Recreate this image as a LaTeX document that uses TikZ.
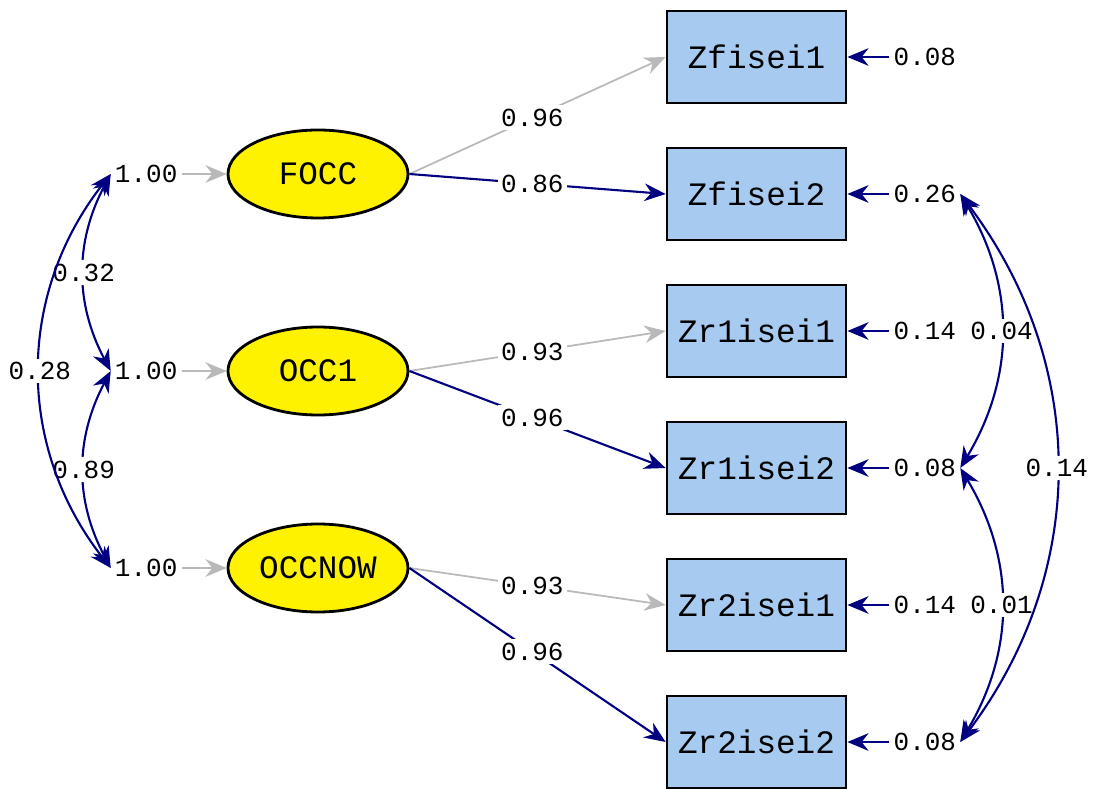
\documentclass[tikz,border=0pt]{standalone}
\usepackage{fontspec}
\setmonofont{Liberation Mono}
\usetikzlibrary{arrows.meta, shapes.geometric, positioning}

\definecolor{pathblue}{RGB}{0,0,128}
\definecolor{fixgray}{RGB}{185,185,185}
\definecolor{boxblue}{RGB}{166,202,240}

\tikzset{
  obs/.style={draw=black, line width=0.8pt, fill=boxblue, minimum width=1.79cm, minimum height=0.92cm, inner xsep=0pt, font=\ttfamily\fontsize{9.3}{11}\selectfont},
  lat/.style={ellipse, draw=black, line width=0.8pt, fill=yellow, minimum width=1.80cm, minimum height=0.88cm, inner sep=0pt, font=\ttfamily\fontsize{9.3}{11}\selectfont},
  val/.style={font=\ttfamily\fontsize{7.4}{9}\selectfont, inner sep=1pt},
  est/.style={val, fill=white},
  free/.style={draw=pathblue, line width=0.6pt, -{Stealth[length=6pt,width=5pt]}},
  fixed/.style={draw=fixgray, line width=0.5pt, -{Stealth[length=6pt,width=5pt]}},
  cov/.style={draw=pathblue, line width=0.6pt, {Stealth[length=6pt,width=5pt]}-{Stealth[length=6pt,width=5pt]}},
}

\begin{document}
\begin{tikzpicture}
\useasboundingbox (0,0) rectangle (10.95,7.88);

% indicators with their error variances
\foreach \n/\y/\v in {Zfisei1/7.31/0.08, Zfisei2/5.94/0.26, Zr1isei1/4.57/0.14, Zr1isei2/3.20/0.08, Zr2isei1/1.83/0.14, Zr2isei2/0.46/0.08} {
  \node[obs] (\n) at (7.565,\y) {\n};
  \node[val, right=0.42cm of \n] (e\n) {\v};
  \draw[free] (e\n) -- (\n);
}

% latent variables, variances fixed at 1
\foreach \n/\y in {FOCC/6.14, OCC1/4.17, OCCNOW/2.20} {
  \node[lat] (\n) at (3.18,\y) {\n};
  \node[val, left=0.45cm of \n] (v\n) {1.00};
  \draw[fixed] (v\n) -- (\n);
}

% loadings
\draw[fixed] (FOCC.east) -- node[est, pos=0.48] {0.96} (Zfisei1.west);
\draw[free] (FOCC.east) -- node[est, pos=0.48] {0.86} (Zfisei2.west);
\draw[fixed] (OCC1.east) -- node[est, pos=0.48] {0.93} (Zr1isei1.west);
\draw[free] (OCC1.east) -- node[est, pos=0.48] {0.96} (Zr1isei2.west);
\draw[fixed] (OCCNOW.east) -- node[est, pos=0.48] {0.93} (Zr2isei1.west);
\draw[free] (OCCNOW.east) -- node[est, pos=0.48] {0.96} (Zr2isei2.west);

% factor correlations
\draw[cov] (vFOCC.west) to[out=-118, in=118] node[est] {0.32} (vOCC1.west);
\draw[cov] (vOCC1.west) to[out=-118, in=118] node[est] {0.89} (vOCCNOW.west);
\draw[cov] (vFOCC.west) to[out=-128, in=128] node[est] {0.28} (vOCCNOW.west);

% error covariances
\draw[cov] (eZfisei2.east) to[out=-59, in=59] node[est] {0.04} (eZr1isei2.east);
\draw[cov] (eZr1isei2.east) to[out=-59, in=59] node[est] {0.01} (eZr2isei2.east);
\draw[cov] (eZfisei2.east) to[out=-53, in=53] node[est] {0.14} (eZr2isei2.east);
\end{tikzpicture}
\end{document}
